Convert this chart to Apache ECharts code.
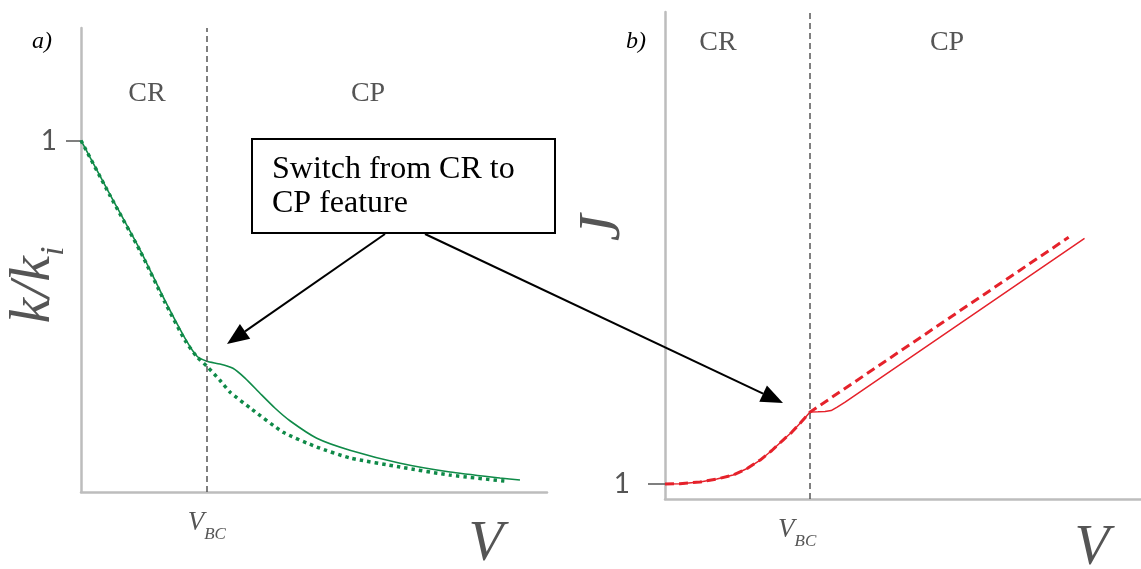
<!DOCTYPE html>
<html>
<head>
<meta charset="utf-8">
<style>html,body{margin:0;padding:0;background:#fff;}#c{width:1141px;height:569px;}</style>
<script src="https://cdn.jsdelivr.net/npm/echarts@6/dist/echarts.min.js"></script>
</head>
<body>
<div id="c"></div>
<script>
// ---- data ----
// panel a) : k/k_i versus V
const VBC_a = 2.7;
const kSwitch = [[0,1.0],[0.62,0.847],[1.27,0.688],[1.8,0.545],[2.23,0.438],[2.49,0.386],[2.7,0.372],[2.98,0.364],[3.26,0.352],[3.52,0.324],[3.84,0.281],[4.16,0.239],[4.49,0.202],[5.06,0.153],[5.77,0.119],[6.85,0.082],[7.92,0.057],[8.99,0.04],[9.42,0.034]];
const kCR = [[0,1.0],[0.62,0.844],[1.27,0.685],[1.8,0.54],[2.23,0.432],[2.49,0.384],[2.7,0.358],[2.98,0.318],[3.2,0.284],[3.63,0.239],[4.34,0.17],[5.06,0.128],[5.77,0.097],[6.85,0.071],[7.92,0.048],[9.1,0.031]];
// panel b) : J versus V
const VBC_b = 3.11;
const jSwitch = [[0,1.0],[0.32,1.005],[0.75,1.027],[1.11,1.067],[1.46,1.12],[1.76,1.207],[2.04,1.32],[2.29,1.447],[2.53,1.587],[2.72,1.694],[2.9,1.814],[3.11,1.961],[3.28,1.964],[3.43,1.968],[3.56,1.98],[3.69,2.027],[3.86,2.093],[8.99,4.28]];
const jCR = [[0,1.0],[0.32,1.005],[0.75,1.027],[1.11,1.067],[1.46,1.12],[1.76,1.207],[2.04,1.32],[2.29,1.447],[2.53,1.587],[2.72,1.694],[2.9,1.814],[3.11,1.961],[8.65,4.293]];
const yTickA = [1];
const yTickB = [1];

const GREEN = '#0f8a48';
const RED = '#e5222b';
const GREY = '#555';
const SERIF = '"Liberation Serif", "Times New Roman", serif';

const chart = echarts.init(document.getElementById('c'), null, {renderer: 'canvas'});

function vbcLabel(pad) {
  return {
    show: true, customValues: null, margin: 17,
    formatter: () => '{v|V}{s|BC}',
    rich: {
      v: {fontFamily: SERIF, fontStyle: 'italic', fontSize: 27, color: GREY, verticalAlign: 'bottom', padding: [0, 0, 7, 0]},
      s: {fontFamily: SERIF, fontStyle: 'italic', fontSize: 17, color: GREY, verticalAlign: 'bottom', padding: [0, pad, 0, 0]}
    }
  };
}
const axisLine = {show: true, lineStyle: {color: '#bdbdbd', width: 2.5}};
const vLineA = {silent: true, symbol: 'none', label: {show: false}, lineStyle: {type: [6, 4], color: GREY, width: 1.5}, data: [{xAxis: VBC_a}]};
const vLineB = {silent: true, symbol: 'none', label: {show: false}, lineStyle: {type: [6, 4], color: GREY, width: 1.5}, data: [{xAxis: VBC_b}]};

const la = vbcLabel(0); la.customValues = [VBC_a];
const lb = vbcLabel(26); lb.customValues = [VBC_b];

function arrow(x1, y1, x2, y2) {
  const dx = x2 - x1, dy = y2 - y1, L = Math.hypot(dx, dy);
  const ux = dx / L, uy = dy / L, hl = 22, hw = 9;
  const bx = x2 - ux * hl, by = y2 - uy * hl;
  return [
    {type: 'line', shape: {x1: x1, y1: y1, x2: bx, y2: by}, style: {stroke: '#000', lineWidth: 2}, z: 50},
    {type: 'polygon', shape: {points: [[x2, y2], [bx - uy * hw, by + ux * hw], [bx + uy * hw, by - ux * hw]]}, style: {fill: '#000'}, z: 50}
  ];
}
function txt(x, y, t, o) {
  return Object.assign({type: 'text', x: x, y: y, z: 60, style: Object.assign({text: t, fontFamily: SERIF, fontSize: 28, fill: GREY, align: 'center', verticalAlign: 'middle'}, o || {})});
}

const option = {
  animation: false,
  backgroundColor: '#fff',
  grid: [
    {left: 81, top: 28, width: 466, bottom: 77, containLabel: false},
    {left: 665, top: 12, right: 0, bottom: 70, containLabel: false}
  ],
  xAxis: [
    {gridIndex: 0, type: 'value', min: 0, max: 10, axisLine: axisLine, axisTick: {show: false}, splitLine: {show: false}, axisLabel: la},
    {gridIndex: 1, type: 'value', min: 0, max: 10.2, axisLine: axisLine, axisTick: {show: false}, splitLine: {show: false}, axisLabel: lb}
  ],
  yAxis: [
    {gridIndex: 0, type: 'value', min: 0, max: 1.32, axisLine: axisLine, splitLine: {show: false},
     axisTick: {show: true, customValues: yTickA, length: 15, lineStyle: {color: GREY, width: 1.5}},
     axisLabel: {show: true, customValues: yTickA, margin: 24, fontFamily: 'Lato', fontSize: 28, color: GREY}},
    {gridIndex: 1, type: 'value', min: 0.8, max: 7.3, axisLine: axisLine, splitLine: {show: false},
     axisTick: {show: true, customValues: yTickB, length: 17, lineStyle: {color: GREY, width: 1.5}},
     axisLabel: {show: true, customValues: yTickB, margin: 35, fontFamily: 'Lato', fontSize: 28, color: GREY}}
  ],
  series: [
    {type: 'line', xAxisIndex: 0, yAxisIndex: 0, data: kCR, showSymbol: false, smooth: 0.2,
     lineStyle: {color: GREEN, width: 3.5, type: [3.5, 4], cap: 'butt'}, markLine: vLineA, z: 3},
    {type: 'line', xAxisIndex: 0, yAxisIndex: 0, data: kSwitch, showSymbol: false, smooth: 0.2,
     lineStyle: {color: GREEN, width: 1.6}, z: 4},
    {type: 'line', xAxisIndex: 1, yAxisIndex: 1, data: jCR, showSymbol: false, smooth: false,
     lineStyle: {color: RED, width: 3, type: [9, 5]}, markLine: vLineB, z: 3},
    {type: 'line', xAxisIndex: 1, yAxisIndex: 1, data: jSwitch, showSymbol: false, smooth: false,
     lineStyle: {color: RED, width: 1.5}, z: 4}
  ],
  graphic: [].concat(
    arrow(385, 234, 227, 344),
    arrow(425, 234, 783, 403),
    [
      {type: 'rect', shape: {x: 252, y: 139, width: 303, height: 94}, style: {fill: '#fff', stroke: '#000', lineWidth: 2}, z: 55},
      txt(272, 170, 'Switch from CR to', {fill: '#000', align: 'left', fontSize: 32}),
      txt(272, 204, 'CP feature', {fill: '#000', align: 'left', fontSize: 32}),
      txt(42, 42, 'a)', {fill: '#000', fontStyle: 'italic', fontSize: 24}),
      txt(636, 42, 'b)', {fill: '#000', fontStyle: 'italic', fontSize: 24}),
      txt(147, 94, 'CR'),
      txt(368, 94, 'CP'),
      txt(718, 43, 'CR'),
      txt(947, 43, 'CP'),
      txt(486, 545, 'V', {fontStyle: 'italic', fontSize: 57}),
      txt(1092, 549, 'V', {fontStyle: 'italic', fontSize: 57}),
      Object.assign(txt(38, 285, '{a|k/k}{b|i}', {
        rich: {
          a: {fontFamily: SERIF, fontStyle: 'italic', fontSize: 58, fill: GREY, verticalAlign: 'bottom', padding: [0, 0, 8, 0]},
          b: {fontFamily: SERIF, fontStyle: 'italic', fontSize: 34, fill: GREY, verticalAlign: 'bottom'}
        }
      }), {rotation: Math.PI / 2}),
      Object.assign(txt(603, 228, 'J', {fontStyle: 'italic', fontSize: 60}), {rotation: Math.PI / 2})
    ]
  )
};
chart.setOption(option);
</script>
</body>
</html>
